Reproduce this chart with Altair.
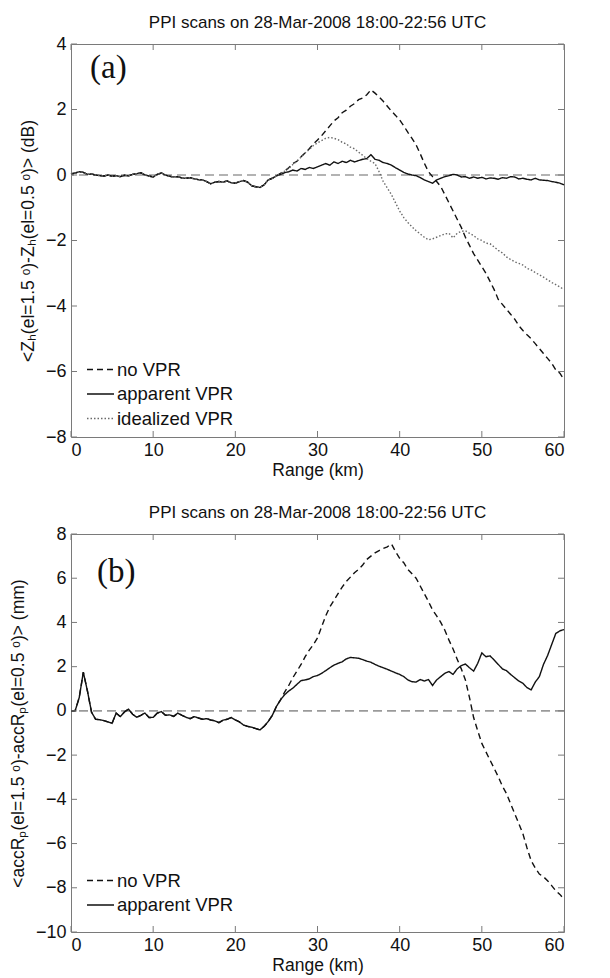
import altair as alt
import pandas as pd

# ---------------- data ----------------
range_km = [round(i * 0.5, 1) for i in range(121)]  # 0 .. 60 km, 0.5 km steps

# Panel (a): <Zh(1.5)-Zh(0.5)> (dB)
zh_apparent = [
    0.03, 0.06, 0.10, 0.08, 0.02, 0.03, 0.00, -0.02, -0.03, 0.00,
    -0.04, -0.02, -0.05, -0.01, -0.03, 0.02, 0.04, 0.07, 0.00, -0.03,
    -0.06, 0.02, 0.06, 0.00, -0.04, -0.06, -0.05, -0.09, -0.10, -0.08,
    -0.12, -0.14, -0.15, -0.20, -0.27, -0.22, -0.20, -0.22, -0.18, -0.24,
    -0.25, -0.20, -0.17, -0.22, -0.33, -0.36, -0.38, -0.30, -0.15, -0.10,
    -0.03, 0.02, 0.07, 0.10, 0.15, 0.12, 0.20, 0.17, 0.23, 0.20,
    0.25, 0.30, 0.35, 0.30, 0.40, 0.35, 0.42, 0.38, 0.45, 0.40,
    0.44, 0.48, 0.50, 0.62, 0.48, 0.45, 0.38, 0.35, 0.30, 0.22,
    0.15, 0.08, 0.03, 0.00, -0.02, -0.08, -0.15, -0.20, -0.25, -0.15,
    -0.10, -0.05, -0.02, 0.02, 0.00, -0.06, -0.05, -0.10, -0.06, -0.10,
    -0.07, -0.12, -0.09, -0.10, -0.13, -0.08, -0.10, -0.05, -0.06, -0.12,
    -0.10, -0.13, -0.15, -0.10, -0.15, -0.16, -0.17, -0.20, -0.22, -0.25,
    -0.30,
]
zh_novpr_tail = [  # 25.5 .. 60 km
    0.05, 0.12, 0.22, 0.35, 0.42, 0.56, 0.68, 0.80, 0.95, 1.07,
    1.20, 1.35, 1.50, 1.65, 1.75, 1.90, 1.98, 2.10, 2.18, 2.30,
    2.35, 2.45, 2.60, 2.50, 2.38, 2.25, 2.10, 1.95, 1.82, 1.68,
    1.50, 1.30, 1.12, 0.92, 0.65, 0.36, 0.10, -0.05, -0.20, -0.35,
    -0.60, -0.85, -1.10, -1.35, -1.60, -1.90, -2.15, -2.40, -2.60, -2.80,
    -3.00, -3.25, -3.50, -3.80, -3.95, -4.10, -4.25, -4.40, -4.60, -4.75,
    -4.88, -5.00, -5.15, -5.30, -5.45, -5.60, -5.75, -5.95, -6.05, -6.25,
]
zh_ideal_tail = [  # 25.5 .. 60 km
    0.05, 0.12, 0.20, 0.32, 0.42, 0.55, 0.67, 0.78, 0.90, 0.98,
    1.05, 1.12, 1.15, 1.12, 1.08, 1.00, 0.95, 0.85, 0.80, 0.70,
    0.60, 0.50, 0.42, 0.35, 0.10, -0.20, -0.40, -0.60, -0.85, -1.10,
    -1.30, -1.45, -1.58, -1.70, -1.80, -1.90, -1.98, -1.95, -1.90, -1.85,
    -1.80, -1.78, -1.92, -1.78, -1.72, -1.70, -1.78, -1.85, -1.95, -2.00,
    -2.08, -2.10, -2.20, -2.30, -2.38, -2.50, -2.58, -2.65, -2.70, -2.75,
    -2.85, -2.90, -2.98, -3.05, -3.12, -3.20, -3.28, -3.35, -3.42, -3.50,
]
zh_novpr = zh_apparent[:51] + zh_novpr_tail
zh_ideal = zh_apparent[:51] + zh_ideal_tail

# Panel (b): <accRp(1.5)-accRp(0.5)> (mm)
acc_apparent = [
    0.00, 0.00, 0.60, 1.75, 0.90, -0.06, -0.38, -0.40, -0.44, -0.50,
    -0.56, -0.10, -0.26, -0.05, 0.08, -0.15, -0.29, -0.20, -0.10, -0.30,
    -0.29, -0.10, -0.03, -0.20, -0.18, -0.25, -0.10, -0.20, -0.29, -0.35,
    -0.26, -0.32, -0.38, -0.35, -0.41, -0.45, -0.53, -0.42, -0.38, -0.30,
    -0.41, -0.50, -0.64, -0.70, -0.74, -0.80, -0.86, -0.70, -0.48, -0.20,
    0.20, 0.50, 0.73, 0.90, 1.03, 1.20, 1.37, 1.40, 1.45, 1.55,
    1.60, 1.70, 1.82, 1.95, 2.07, 2.15, 2.22, 2.35, 2.42, 2.40,
    2.38, 2.32, 2.25, 2.20, 2.10, 2.02, 1.95, 1.88, 1.80, 1.72,
    1.65, 1.55, 1.40, 1.32, 1.30, 1.42, 1.35, 1.42, 1.15, 1.40,
    1.55, 1.70, 1.78, 1.65, 1.90, 2.05, 2.12, 1.95, 1.80, 2.15,
    2.62, 2.45, 2.49, 2.30, 2.10, 1.90, 1.82, 1.65, 1.50, 1.35,
    1.25, 1.05, 0.95, 1.30, 1.55, 2.10, 2.50, 3.00, 3.50, 3.62,
    3.68,
]
acc_novpr_tail = [  # 26 .. 60 km
    0.85, 1.15, 1.50, 1.80, 2.10, 2.45, 2.75, 3.00, 3.30, 3.80,
    4.30, 4.70, 5.00, 5.30, 5.60, 5.85, 6.05, 6.25, 6.40, 6.60,
    6.85, 7.00, 7.15, 7.25, 7.35, 7.42, 7.55, 7.20, 6.90, 6.70,
    6.40, 6.20, 6.00, 5.65, 5.30, 4.95, 4.57, 4.30, 4.00, 3.65,
    3.20, 2.80, 2.34, 1.90, 1.40, 0.60, -0.30, -0.90, -1.47, -1.85,
    -2.23, -2.60, -2.98, -3.40, -3.74, -4.20, -4.65, -5.10, -5.56, -6.20,
    -6.77, -7.10, -7.38, -7.50, -7.68, -7.90, -8.14, -8.30, -8.52,
]
acc_novpr = acc_apparent[:52] + acc_novpr_tail

x_ticks = [0, 10, 20, 30, 40, 50, 60]
zh_ticks = [-8, -6, -4, -2, 0, 2, 4]
acc_ticks = [-10, -8, -6, -4, -2, 0, 2, 4, 6, 8]

title_text = "PPI scans on 28-Mar-2008 18:00-22:56 UTC"

# ---------------- styling ----------------
FONT = "Liberation Sans"
GRAY = "#7a7a7a"
W = 493
HA = 393
HB = 398
TICK = 6


def long_df(series_dict):
    rows = []
    for name, vals in series_dict.items():
        for xv, yv in zip(range_km, vals):
            rows.append({"range": xv, "value": yv, "series": name})
    return pd.DataFrame(rows)


def panel(series_dict, colors, dashes, ydomain, yticks, ytitle, label, h,
          label_x, label_y, leg_bottom):
    order = list(series_dict.keys())
    df = long_df(series_dict)
    xscale = alt.Scale(domain=[0, 60], nice=False, zero=False)
    yscale = alt.Scale(domain=ydomain, nice=False, zero=False)

    zero = alt.Chart(pd.DataFrame({"value": [0]})).mark_rule(
        color="#9a9a9a", strokeDash=[9, 5], strokeWidth=1.6
    ).encode(y=alt.Y("value:Q", scale=yscale))

    legend = alt.Legend(
        title=None, orient="none", legendX=15, legendY=h - leg_bottom,
        symbolType="stroke", symbolSize=729, symbolStrokeWidth=1.4,
        labelFont=FONT, labelFontSize=18.5, labelColor="#111",
        rowPadding=0.5, labelOffset=2, padding=0,
    )
    lines = alt.Chart(df).mark_line(strokeWidth=1.4).encode(
        x=alt.X("range:Q", scale=xscale,
                axis=alt.Axis(values=x_ticks, title="Range (km)", format="d",
                              titlePadding=2, labelPadding=4)),
        y=alt.Y("value:Q", scale=yscale,
                axis=alt.Axis(values=yticks, title=ytitle, format="d")),
        color=alt.Color("series:N", scale=alt.Scale(domain=order, range=colors),
                        legend=legend),
        strokeDash=alt.StrokeDash("series:N", scale=alt.Scale(domain=order, range=dashes),
                                  legend=legend),
    )

    xt = alt.Chart(pd.DataFrame({"range": x_ticks}))
    yt = alt.Chart(pd.DataFrame({"value": yticks}))
    tb = xt.mark_rule(color=GRAY).encode(x=alt.X("range:Q", scale=xscale),
                                          y=alt.value(h), y2=alt.value(h - TICK))
    tt = xt.mark_rule(color=GRAY).encode(x=alt.X("range:Q", scale=xscale),
                                          y=alt.value(0), y2=alt.value(TICK))
    tl = yt.mark_rule(color=GRAY).encode(y=alt.Y("value:Q", scale=yscale),
                                          x=alt.value(0), x2=alt.value(TICK))
    tr = yt.mark_rule(color=GRAY).encode(y=alt.Y("value:Q", scale=yscale),
                                          x=alt.value(W), x2=alt.value(W - TICK))

    lab = alt.Chart(pd.DataFrame({"t": [label]})).mark_text(
        font="Liberation Serif", fontSize=33, align="left", baseline="middle", color="#111"
    ).encode(text="t:N", x=alt.value(label_x), y=alt.value(label_y))

    return alt.layer(zero, lines, tb, tt, tl, tr, lab).properties(
        width=W, height=h,
        title=alt.TitleParams(title_text, font=FONT, fontSize=17, fontWeight="normal",
                              color="#111", offset=3, anchor="middle"),
    )


pa = panel(
    {"no VPR": zh_novpr, "apparent VPR": zh_apparent, "idealized VPR": zh_ideal},
    ["#111111", "#111111", "#6a6a6a"], [[6, 4], [1, 0], [1.5, 2]],
    [-8, 4], zh_ticks,
    "<Zₕ(el=1.5 ᵒ)-Zₕ(el=0.5 ᵒ)> (dB)", "(a)", HA, 19, 24, 82,
)
pb = panel(
    {"no VPR": acc_novpr, "apparent VPR": acc_apparent},
    ["#111111", "#111111"], [[6, 4], [1, 0]],
    [-10, 8], acc_ticks,
    "<accRₚ(el=1.5 ᵒ)-accRₚ(el=0.5 ᵒ)> (mm)", "(b)", HB, 26, 38, 66,
)

chart = alt.vconcat(pa, pb, spacing=24).resolve_scale(color="independent", strokeDash="independent").properties(
    padding={"left": 8, "top": 13, "right": 10, "bottom": 2}
).configure_view(
    stroke=GRAY, strokeWidth=1
).configure_axis(
    domain=False, ticks=False, grid=False,
    labelFont=FONT, labelFontSize=18, labelColor="#111", labelPadding=5,
    titleFont=FONT, titleFontSize=17.5, titleFontWeight="normal", titleColor="#111",
    titlePadding=8,
)

chart.save("out.html", embed_options={"renderer": "svg", "actions": False})
